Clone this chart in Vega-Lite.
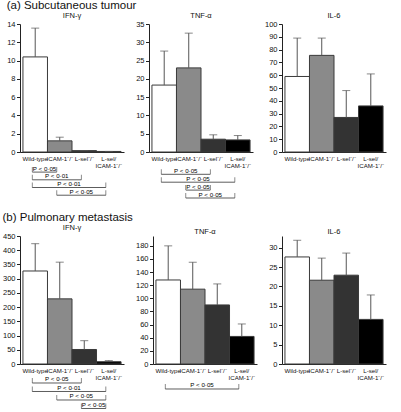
{
"$schema": "https://vega.github.io/schema/vega-lite/v6.json",
"padding": {"left": 2, "top": 0, "right": 2, "bottom": 0},
"spacing": 13,
"config": {
  "font": "Liberation Sans",
  "view": {"stroke": null},
  "axis": {"grid": false, "domainColor": "#222", "tickColor": "#222", "labelColor": "#111", "labelFontSize": 7.5, "tickSize": 3.5, "labelPadding": 1.5, "domainWidth": 1, "tickWidth": 1, "title": null, "labelOverlap": false, "labelFlush": false},
  "axisX": {"ticks": false, "labelFontSize": 6.1, "labelPadding": 3, "labelAngle": 0, "labelOverlap": false, "labelBound": false, "labelFlush": false, "labelLineHeight": 7.5, "labelExpr": "datum.value == 'L-sel/ICAM-1⁻/⁻' ? ['L-sel/', 'ICAM-1⁻/⁻'] : datum.value"},
  "title": {"fontSize": 7.5, "fontWeight": "normal", "offset": 1, "color": "#111"},
  "concat": {"spacing": 11}
},
"vconcat": [
{
 "title": {"text": "(a) Subcutaneous tumour", "anchor": "start", "fontSize": 11.5, "offset": 0},
 "spacing": 11,
 "hconcat": [
  {
   "width": 104, "height": 128, "title": "IFN-γ",
   "layer": [
    {"data": {"values": [
      {"group": "Wild-type", "value": 10.4, "upper": 13.55},
      {"group": "ICAM-1⁻/⁻", "value": 1.22, "upper": 1.62},
      {"group": "L-sel⁻/⁻", "value": 0.15, "upper": 0.15},
      {"group": "L-sel/ICAM-1⁻/⁻", "value": 0.06, "upper": 0.06}]},
     "layer": [
      {"mark": {"type": "bar", "stroke": "#3a3a3a", "strokeWidth": 1},
       "encoding": {
        "x": {"field": "group", "type": "nominal", "sort": null, "scale": {"paddingInner": 0, "paddingOuter": 0.12}},
        "y": {"field": "value", "type": "quantitative", "scale": {"domain": [0, 14], "nice": false}, "axis": {"values": [0, 2, 4, 6, 8, 10, 12, 14]}},
        "fill": {"field": "group", "type": "nominal", "sort": null, "scale": {"domain": ["Wild-type", "ICAM-1⁻/⁻", "L-sel⁻/⁻", "L-sel/ICAM-1⁻/⁻"], "range": ["#ffffff", "#8a8a8a", "#333333", "#000000"]}, "legend": null}}},
      {"mark": {"type": "rule", "color": "#555"},
       "encoding": {"x": {"field": "group", "type": "nominal", "sort": null}, "y": {"field": "value", "type": "quantitative", "axis": {"values": [0, 2, 4, 6, 8, 10, 12, 14]}}, "y2": {"field": "upper"}}},
      {"mark": {"type": "tick", "orient": "horizontal", "size": 8, "thickness": 1, "color": "#555"},
       "encoding": {"x": {"field": "group", "type": "nominal", "sort": null}, "y": {"field": "upper", "type": "quantitative", "axis": {"values": [0, 2, 4, 6, 8, 10, 12, 14]}}}}
     ]},
    {"data": {"values": [
      {"id": 1, "level": 1, "pos": 1, "p": "P < 0·05"}, {"id": 1, "level": 1, "pos": 2, "p": "P < 0·05"},
      {"id": 2, "level": 2, "pos": 1, "p": "P < 0·01"}, {"id": 2, "level": 2, "pos": 3, "p": "P < 0·01"},
      {"id": 3, "level": 3, "pos": 1, "p": "P < 0·01"}, {"id": 3, "level": 3, "pos": 4, "p": "P < 0·01"},
      {"id": 4, "level": 4, "pos": 2, "p": "P < 0·05"}, {"id": 4, "level": 4, "pos": 4, "p": "P < 0·05"}]},
     "encoding": {"y": {"field": "level", "type": "quantitative", "scale": {"domain": [-18.234, -1.611], "reverse": true, "nice": false, "zero": false}, "axis": null}},
     "layer": [
      {"mark": {"type": "rule", "color": "#333", "strokeWidth": 0.8},
       "encoding": {"x": {"aggregate": "min", "field": "pos", "type": "quantitative", "scale": {"domain": [0.5, 4.74], "nice": false, "zero": false}, "axis": null}, "x2": {"aggregate": "max", "field": "pos"}, "detail": {"field": "id", "type": "nominal"}}},
      {"mark": {"type": "tick", "orient": "vertical", "size": 5, "thickness": 0.8, "yOffset": -2.5, "color": "#333"},
       "encoding": {"x": {"field": "pos", "type": "quantitative"}}},
      {"mark": {"type": "text", "baseline": "bottom", "dy": -0.5, "fontSize": 6.2},
       "encoding": {"x": {"aggregate": "mean", "field": "pos", "type": "quantitative"}, "text": {"field": "p", "type": "nominal"}, "detail": {"field": "id", "type": "nominal"}}}
     ]}
   ],
   "resolve": {"scale": {"x": "independent", "y": "independent"}}
  },
  {
   "width": 104, "height": 128, "title": "TNF-α",
   "layer": [
    {"data": {"values": [
      {"group": "Wild-type", "value": 18.3, "upper": 27.6},
      {"group": "ICAM-1⁻/⁻", "value": 23.0, "upper": 32.5},
      {"group": "L-sel⁻/⁻", "value": 3.5, "upper": 4.7},
      {"group": "L-sel/ICAM-1⁻/⁻", "value": 3.3, "upper": 4.5}]},
     "layer": [
      {"mark": {"type": "bar", "stroke": "#3a3a3a", "strokeWidth": 1},
       "encoding": {
        "x": {"field": "group", "type": "nominal", "sort": null, "scale": {"paddingInner": 0, "paddingOuter": 0.12}},
        "y": {"field": "value", "type": "quantitative", "scale": {"domain": [0, 35], "nice": false}, "axis": {"values": [0, 5, 10, 15, 20, 25, 30, 35]}},
        "fill": {"field": "group", "type": "nominal", "sort": null, "scale": {"domain": ["Wild-type", "ICAM-1⁻/⁻", "L-sel⁻/⁻", "L-sel/ICAM-1⁻/⁻"], "range": ["#ffffff", "#8a8a8a", "#333333", "#000000"]}, "legend": null}}},
      {"mark": {"type": "rule", "color": "#555"},
       "encoding": {"x": {"field": "group", "type": "nominal", "sort": null}, "y": {"field": "value", "type": "quantitative", "axis": {"values": [0, 5, 10, 15, 20, 25, 30, 35]}}, "y2": {"field": "upper"}}},
      {"mark": {"type": "tick", "orient": "horizontal", "size": 8, "thickness": 1, "color": "#555"},
       "encoding": {"x": {"field": "group", "type": "nominal", "sort": null}, "y": {"field": "upper", "type": "quantitative", "axis": {"values": [0, 5, 10, 15, 20, 25, 30, 35]}}}}
     ]},
    {"data": {"values": [
      {"id": 1, "level": 1, "pos": 1, "p": "P < 0·05"}, {"id": 1, "level": 1, "pos": 3, "p": "P < 0·05"},
      {"id": 2, "level": 2, "pos": 1, "p": "P < 0·05"}, {"id": 2, "level": 2, "pos": 4, "p": "P < 0·05"},
      {"id": 3, "level": 3, "pos": 2, "p": "P < 0·05"}, {"id": 3, "level": 3, "pos": 3, "p": "P < 0·05"},
      {"id": 4, "level": 4, "pos": 2, "p": "P < 0·05"}, {"id": 4, "level": 4, "pos": 4, "p": "P < 0·05"}]},
     "encoding": {"y": {"field": "level", "type": "quantitative", "scale": {"domain": [-18.025, -1.823], "reverse": true, "nice": false, "zero": false}, "axis": null}},
     "layer": [
      {"mark": {"type": "rule", "color": "#333", "strokeWidth": 0.8},
       "encoding": {"x": {"aggregate": "min", "field": "pos", "type": "quantitative", "scale": {"domain": [0.5, 4.74], "nice": false, "zero": false}, "axis": null}, "x2": {"aggregate": "max", "field": "pos"}, "detail": {"field": "id", "type": "nominal"}}},
      {"mark": {"type": "tick", "orient": "vertical", "size": 5, "thickness": 0.8, "yOffset": -2.5, "color": "#333"},
       "encoding": {"x": {"field": "pos", "type": "quantitative"}}},
      {"mark": {"type": "text", "baseline": "bottom", "dy": -0.5, "fontSize": 6.2},
       "encoding": {"x": {"aggregate": "mean", "field": "pos", "type": "quantitative"}, "text": {"field": "p", "type": "nominal"}, "detail": {"field": "id", "type": "nominal"}}}
     ]}
   ],
   "resolve": {"scale": {"x": "independent", "y": "independent"}}
  },
  {
   "width": 104, "height": 128, "title": "IL-6",
   "data": {"values": [
      {"group": "Wild-type", "value": 59, "upper": 89},
      {"group": "ICAM-1⁻/⁻", "value": 75.5, "upper": 89},
      {"group": "L-sel⁻/⁻", "value": 27, "upper": 48},
      {"group": "L-sel/ICAM-1⁻/⁻", "value": 36, "upper": 61}]},
   "layer": [
      {"mark": {"type": "bar", "stroke": "#3a3a3a", "strokeWidth": 1},
       "encoding": {
        "x": {"field": "group", "type": "nominal", "sort": null, "scale": {"paddingInner": 0, "paddingOuter": 0.12}},
        "y": {"field": "value", "type": "quantitative", "scale": {"domain": [0, 100], "nice": false}, "axis": {"values": [0, 10, 20, 30, 40, 50, 60, 70, 80, 90, 100]}},
        "fill": {"field": "group", "type": "nominal", "sort": null, "scale": {"domain": ["Wild-type", "ICAM-1⁻/⁻", "L-sel⁻/⁻", "L-sel/ICAM-1⁻/⁻"], "range": ["#ffffff", "#8a8a8a", "#333333", "#000000"]}, "legend": null}}},
      {"mark": {"type": "rule", "color": "#555"},
       "encoding": {"x": {"field": "group", "type": "nominal", "sort": null}, "y": {"field": "value", "type": "quantitative", "axis": {"values": [0, 10, 20, 30, 40, 50, 60, 70, 80, 90, 100]}}, "y2": {"field": "upper"}}},
      {"mark": {"type": "tick", "orient": "horizontal", "size": 8, "thickness": 1, "color": "#555"},
       "encoding": {"x": {"field": "group", "type": "nominal", "sort": null}, "y": {"field": "upper", "type": "quantitative", "axis": {"values": [0, 10, 20, 30, 40, 50, 60, 70, 80, 90, 100]}}}}
   ]
  }
 ]
},
{
 "title": {"text": "(b) Pulmonary metastasis", "anchor": "start", "fontSize": 11.5, "offset": 0},
 "spacing": 11,
 "hconcat": [
  {
   "width": 104, "height": 128, "title": "IFN-γ",
   "layer": [
    {"data": {"values": [
      {"group": "Wild-type", "value": 327, "upper": 423},
      {"group": "ICAM-1⁻/⁻", "value": 229, "upper": 358},
      {"group": "L-sel⁻/⁻", "value": 51, "upper": 82},
      {"group": "L-sel/ICAM-1⁻/⁻", "value": 8, "upper": 12}]},
     "layer": [
      {"mark": {"type": "bar", "stroke": "#3a3a3a", "strokeWidth": 1},
       "encoding": {
        "x": {"field": "group", "type": "nominal", "sort": null, "scale": {"paddingInner": 0, "paddingOuter": 0.12}},
        "y": {"field": "value", "type": "quantitative", "scale": {"domain": [0, 450], "nice": false}, "axis": {"values": [0, 50, 100, 150, 200, 250, 300, 350, 400, 450]}},
        "fill": {"field": "group", "type": "nominal", "sort": null, "scale": {"domain": ["Wild-type", "ICAM-1⁻/⁻", "L-sel⁻/⁻", "L-sel/ICAM-1⁻/⁻"], "range": ["#ffffff", "#8a8a8a", "#333333", "#000000"]}, "legend": null}}},
      {"mark": {"type": "rule", "color": "#555"},
       "encoding": {"x": {"field": "group", "type": "nominal", "sort": null}, "y": {"field": "value", "type": "quantitative", "axis": {"values": [0, 50, 100, 150, 200, 250, 300, 350, 400, 450]}}, "y2": {"field": "upper"}}},
      {"mark": {"type": "tick", "orient": "horizontal", "size": 8, "thickness": 1, "color": "#555"},
       "encoding": {"x": {"field": "group", "type": "nominal", "sort": null}, "y": {"field": "upper", "type": "quantitative", "axis": {"values": [0, 50, 100, 150, 200, 250, 300, 350, 400, 450]}}}}
     ]},
    {"data": {"values": [
      {"id": 1, "level": 1, "pos": 1, "p": "P < 0·05"}, {"id": 1, "level": 1, "pos": 3, "p": "P < 0·05"},
      {"id": 2, "level": 2, "pos": 1, "p": "P < 0·01"}, {"id": 2, "level": 2, "pos": 4, "p": "P < 0·01"},
      {"id": 3, "level": 3, "pos": 2, "p": "P < 0·05"}, {"id": 3, "level": 3, "pos": 4, "p": "P < 0·05"},
      {"id": 4, "level": 4, "pos": 3, "p": "P < 0·05"}, {"id": 4, "level": 4, "pos": 4, "p": "P < 0·05"}]},
     "encoding": {"y": {"field": "level", "type": "quantitative", "scale": {"domain": [-16.294, -1.235], "reverse": true, "nice": false, "zero": false}, "axis": null}},
     "layer": [
      {"mark": {"type": "rule", "color": "#333", "strokeWidth": 0.8},
       "encoding": {"x": {"aggregate": "min", "field": "pos", "type": "quantitative", "scale": {"domain": [0.5, 4.74], "nice": false, "zero": false}, "axis": null}, "x2": {"aggregate": "max", "field": "pos"}, "detail": {"field": "id", "type": "nominal"}}},
      {"mark": {"type": "tick", "orient": "vertical", "size": 5, "thickness": 0.8, "yOffset": -2.5, "color": "#333"},
       "encoding": {"x": {"field": "pos", "type": "quantitative"}}},
      {"mark": {"type": "text", "baseline": "bottom", "dy": -0.5, "fontSize": 6.2},
       "encoding": {"x": {"aggregate": "mean", "field": "pos", "type": "quantitative"}, "text": {"field": "p", "type": "nominal"}, "detail": {"field": "id", "type": "nominal"}}}
     ]}
   ],
   "resolve": {"scale": {"x": "independent", "y": "independent"}}
  },
  {
   "width": 104, "height": 128, "title": "TNF-α",
   "layer": [
    {"data": {"values": [
      {"group": "Wild-type", "value": 128, "upper": 180},
      {"group": "ICAM-1⁻/⁻", "value": 114, "upper": 155},
      {"group": "L-sel⁻/⁻", "value": 90, "upper": 122},
      {"group": "L-sel/ICAM-1⁻/⁻", "value": 42, "upper": 61}]},
     "layer": [
      {"mark": {"type": "bar", "stroke": "#3a3a3a", "strokeWidth": 1},
       "encoding": {
        "x": {"field": "group", "type": "nominal", "sort": null, "scale": {"paddingInner": 0, "paddingOuter": 0.12}},
        "y": {"field": "value", "type": "quantitative", "scale": {"domain": [0, 195], "nice": false}, "axis": {"values": [0, 20, 40, 60, 80, 100, 120, 140, 160, 180]}},
        "fill": {"field": "group", "type": "nominal", "sort": null, "scale": {"domain": ["Wild-type", "ICAM-1⁻/⁻", "L-sel⁻/⁻", "L-sel/ICAM-1⁻/⁻"], "range": ["#ffffff", "#8a8a8a", "#333333", "#000000"]}, "legend": null}}},
      {"mark": {"type": "rule", "color": "#555"},
       "encoding": {"x": {"field": "group", "type": "nominal", "sort": null}, "y": {"field": "value", "type": "quantitative", "axis": {"values": [0, 20, 40, 60, 80, 100, 120, 140, 160, 180]}}, "y2": {"field": "upper"}}},
      {"mark": {"type": "tick", "orient": "horizontal", "size": 8, "thickness": 1, "color": "#555"},
       "encoding": {"x": {"field": "group", "type": "nominal", "sort": null}, "y": {"field": "upper", "type": "quantitative", "axis": {"values": [0, 20, 40, 60, 80, 100, 120, 140, 160, 180]}}}}
     ]},
    {"data": {"values": [
      {"id": 1, "level": 1, "pos": 1, "p": "P < 0·05"}, {"id": 1, "level": 1, "pos": 4, "p": "P < 0·05"}]},
     "encoding": {"y": {"field": "level", "type": "quantitative", "scale": {"domain": [-17.0, -1.941], "reverse": true, "nice": false, "zero": false}, "axis": null}},
     "layer": [
      {"mark": {"type": "rule", "color": "#333", "strokeWidth": 0.8},
       "encoding": {"x": {"aggregate": "min", "field": "pos", "type": "quantitative", "scale": {"domain": [0.5, 4.74], "nice": false, "zero": false}, "axis": null}, "x2": {"aggregate": "max", "field": "pos"}, "detail": {"field": "id", "type": "nominal"}}},
      {"mark": {"type": "tick", "orient": "vertical", "size": 5, "thickness": 0.8, "yOffset": -2.5, "color": "#333"},
       "encoding": {"x": {"field": "pos", "type": "quantitative"}}},
      {"mark": {"type": "text", "baseline": "bottom", "dy": -0.5, "fontSize": 6.2},
       "encoding": {"x": {"aggregate": "mean", "field": "pos", "type": "quantitative"}, "text": {"field": "p", "type": "nominal"}, "detail": {"field": "id", "type": "nominal"}}}
     ]}
   ],
   "resolve": {"scale": {"x": "independent", "y": "independent"}}
  },
  {
   "width": 104, "height": 128, "title": "IL-6",
   "data": {"values": [
      {"group": "Wild-type", "value": 27.6, "upper": 31.9},
      {"group": "ICAM-1⁻/⁻", "value": 21.6, "upper": 27.3},
      {"group": "L-sel⁻/⁻", "value": 22.9, "upper": 28.6},
      {"group": "L-sel/ICAM-1⁻/⁻", "value": 11.5, "upper": 17.8}]},
   "layer": [
      {"mark": {"type": "bar", "stroke": "#3a3a3a", "strokeWidth": 1},
       "encoding": {
        "x": {"field": "group", "type": "nominal", "sort": null, "scale": {"paddingInner": 0, "paddingOuter": 0.12}},
        "y": {"field": "value", "type": "quantitative", "scale": {"domain": [0, 33], "nice": false}, "axis": {"values": [0, 5, 10, 15, 20, 25, 30]}},
        "fill": {"field": "group", "type": "nominal", "sort": null, "scale": {"domain": ["Wild-type", "ICAM-1⁻/⁻", "L-sel⁻/⁻", "L-sel/ICAM-1⁻/⁻"], "range": ["#ffffff", "#8a8a8a", "#333333", "#000000"]}, "legend": null}}},
      {"mark": {"type": "rule", "color": "#555"},
       "encoding": {"x": {"field": "group", "type": "nominal", "sort": null}, "y": {"field": "value", "type": "quantitative", "axis": {"values": [0, 5, 10, 15, 20, 25, 30]}}, "y2": {"field": "upper"}}},
      {"mark": {"type": "tick", "orient": "horizontal", "size": 8, "thickness": 1, "color": "#555"},
       "encoding": {"x": {"field": "group", "type": "nominal", "sort": null}, "y": {"field": "upper", "type": "quantitative", "axis": {"values": [0, 5, 10, 15, 20, 25, 30]}}}}
   ]
  }
 ]
}
]
}
